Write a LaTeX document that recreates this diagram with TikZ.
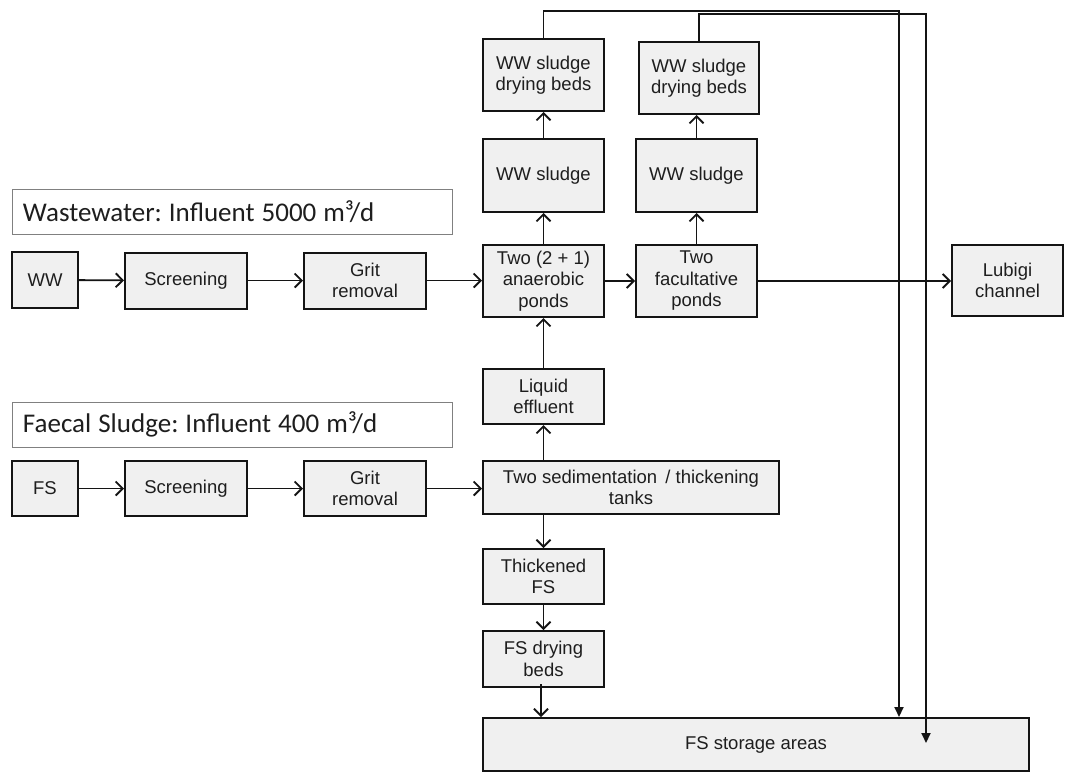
\documentclass[tikz,border=0pt]{standalone}
\usepackage{fontspec}
\setmainfont{Liberation Sans}
\newfontfamily\titlefont{Carlito}
\usetikzlibrary{arrows.meta}
\definecolor{boxfill}{HTML}{F0F0F0}
\definecolor{edgecol}{HTML}{141414}
\definecolor{txtcol}{HTML}{1E1E1E}
\newcommand\mytitlesetup{\titlefont\fontsize{27}{32}\selectfont\spaceskip=0.26em\relax}
\begin{document}
\frenchspacing
\begin{tikzpicture}[x=1pt,y=-1pt,
  proc/.style={draw=edgecol, line width=2pt, fill=boxfill, align=center,
    font=\fontsize{18.5}{21.5}\selectfont, inner sep=0pt, text=txtcol},
  titlebox/.style={draw=black!50, line width=1pt, fill=white,
    minimum height=45pt,
    text width=418pt, align=left, inner xsep=11pt, inner ysep=0pt, text=txtcol},
  flow/.style={line width=1.8pt, draw=edgecol,
    -{Straight Barb[length=7pt,width=14pt,line width=1.8pt]}},
  sflow/.style={line width=1.8pt, draw=edgecol, -{Triangle[length=10pt,width=9pt]}}]
\useasboundingbox (0,0) rectangle (1065,772);

% titles
\node[titlebox] (t1) at (232,211.5) {\mytitlesetup Wastewater: Influent 5000 m³/d};
\node[titlebox] (t2) at (232,424.5) {\mytitlesetup Faecal Sludge: Influent 400 m³/d};

% wastewater line
\node[proc, minimum width=66pt, minimum height=56pt] (ww) at (45,280) {WW};
\node[proc, minimum width=122pt, minimum height=56pt] (scr1) at (186,280.5) {Screening};
\node[proc, minimum width=122pt, minimum height=56pt] (grit1) at (365,280.5) {Grit\\removal};
\node[proc, minimum width=121pt, minimum height=72pt] (anaer) at (543.5,281) {Two (2 + 1)\\anaerobic\\ponds};
\node[proc, minimum width=121pt, minimum height=72pt] (facult) at (696.5,281) {Two\\facultative\\ponds};
\node[proc, minimum width=111pt, minimum height=71pt] (lubigi) at (1007.5,280.5) {Lubigi\\channel};

\node[proc, minimum width=121pt, minimum height=73pt] (sl1) at (543.5,175.5) {WW sludge};
\node[proc, minimum width=121pt, minimum height=73pt] (sl2) at (696.5,175.5) {WW sludge};
\node[proc, minimum width=121pt, minimum height=72pt] (dry1) at (543.5,75) {WW sludge\\drying beds};
\node[proc, minimum width=120pt, minimum height=72pt] (dry2) at (699,78) {WW sludge\\drying beds};

% faecal sludge line
\node[proc, minimum width=66pt, minimum height=55pt] (fs) at (45,488.5) {FS};
\node[proc, minimum width=122pt, minimum height=55pt] (scr2) at (186,488.5) {Screening};
\node[proc, minimum width=122pt, minimum height=55pt] (grit2) at (365,488.5) {Grit\\removal};
\node[proc, minimum width=296pt, minimum height=53pt] (sed) at (631,487.5) {Two sedimentation\, / thickening\\tanks};
\node[proc, minimum width=121pt, minimum height=55pt] (liq) at (543.5,396.5) {Liquid\\effluent};
\node[proc, minimum width=121pt, minimum height=55pt] (thick) at (543.5,576.5) {Thickened\\FS};
\node[proc, minimum width=121pt, minimum height=56pt] (fsdb) at (543.5,659) {FS drying\\beds};
\node[proc, minimum width=546pt, minimum height=53pt] (store) at (756,744.5) {FS storage areas};

% connectors
\draw[flow] (ww) -- (scr1);
\draw[flow] (scr1) -- (grit1);
\draw[flow] (grit1.east) -- (grit1.east -| anaer.west);
\draw[flow] (anaer) -- (facult);
\draw[flow] (facult.east) -- (facult.east -| lubigi.west);
\draw[flow] (anaer) -- (sl1);
\draw[flow] (sl1) -- (dry1);
\draw[flow] (facult) -- (sl2);
\draw[flow] (sl2.north) -- (sl2.north |- dry2.south);

\draw[flow] (fs) -- (scr2);
\draw[flow] (scr2) -- (grit2);
\draw[flow] (grit2.east) -- (grit2.east -| sed.west);
\draw[flow] (liq.south |- sed.north) -- (liq.south);
\draw[flow] (liq) -- (anaer);
\draw[flow] (thick.north |- sed.south) -- (thick.north);
\draw[flow] (thick) -- (fsdb);
\coordinate (fsdbout) at ([xshift=-2.5pt,yshift=4pt]fsdb.south);
\draw[flow] (fsdbout) -- (fsdbout |- store.north);

% return lines to storage
\coordinate (c1) at (543.5,11);
\coordinate (c2) at (899,11);
\draw[sflow] (dry1.north) -- (c1) -- (c2) -- (c2 |- store.north);
\coordinate (d1) at (699,14);
\coordinate (d2) at (926,14);
\coordinate (d3) at (926,743);
\draw[sflow] (dry2.north) -- (d1) -- (d2) -- (d3);
\end{tikzpicture}
\end{document}
